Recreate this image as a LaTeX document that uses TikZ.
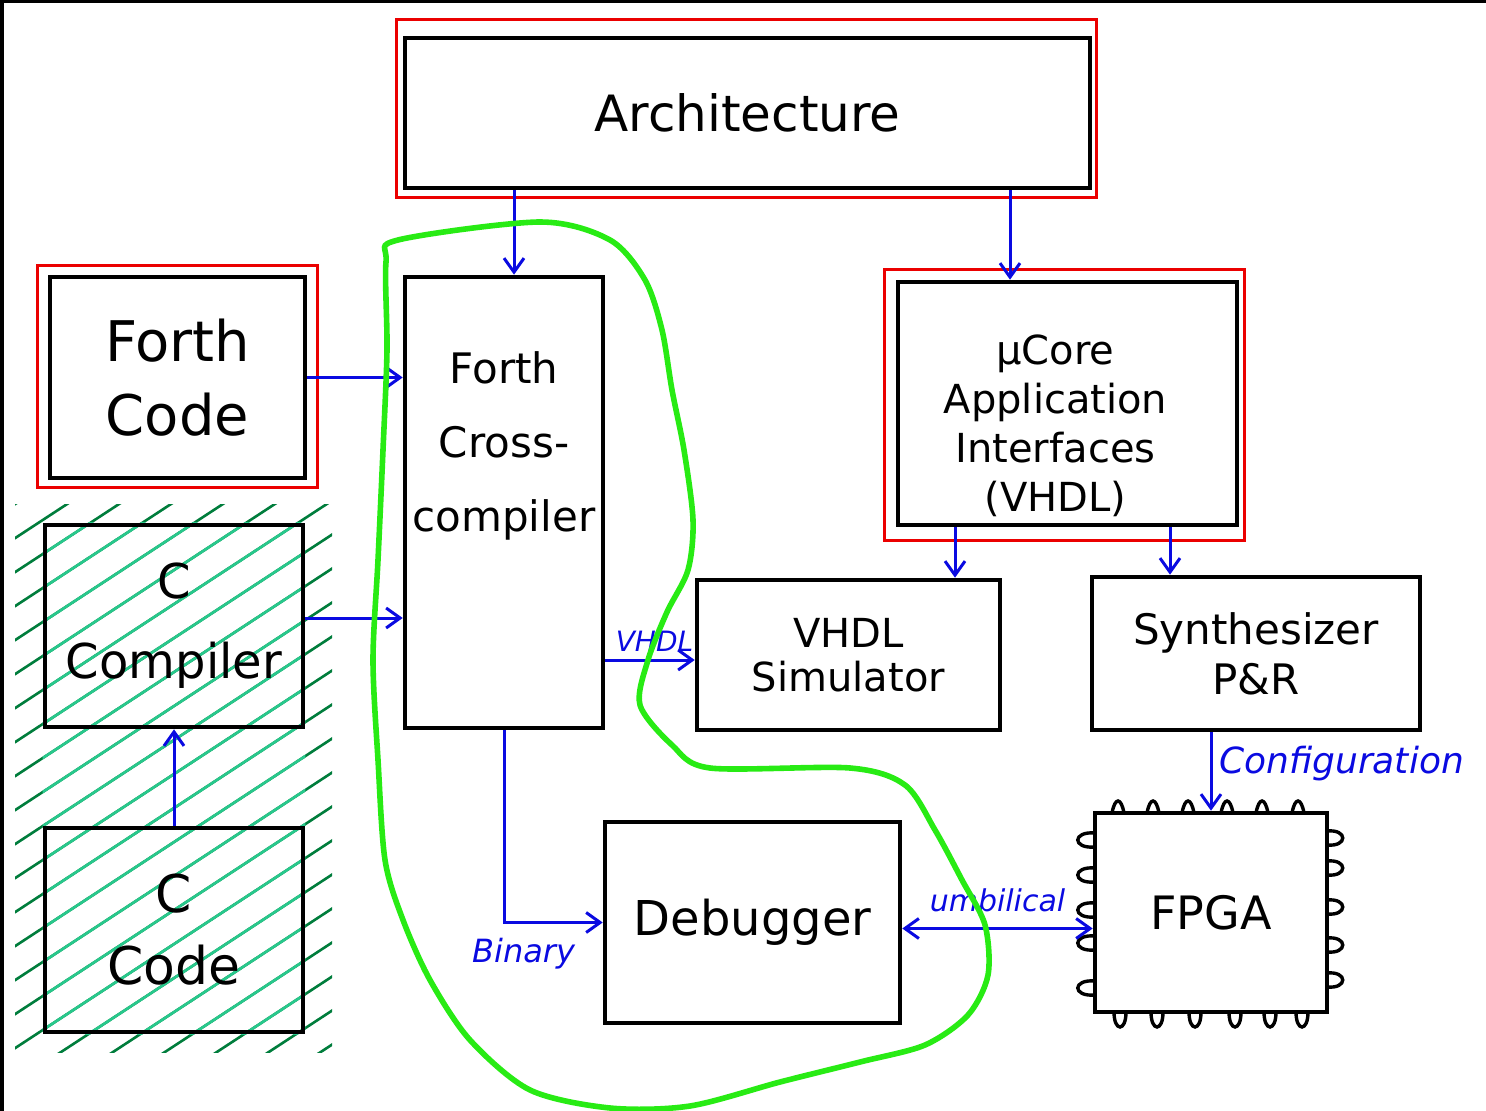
\documentclass[tikz,border=0pt]{standalone}
\usepackage{fontspec}
\setmainfont{DejaVu Sans}
\usetikzlibrary{arrows.meta,backgrounds,positioning}

\definecolor{penblue}{RGB}{10,10,225}
\definecolor{penred}{RGB}{235,0,0}
\definecolor{pengreen}{RGB}{40,235,20}
\definecolor{hatchdark}{RGB}{0,125,60}
\definecolor{hatchlight}{RGB}{40,200,140}

\begin{document}
\begin{tikzpicture}[x=0.5pt, y=-0.5pt,
    >={Straight Barb[length=7pt,width=10pt]},
    box/.style={draw, line width=2.3pt, inner sep=0pt, align=center},
    redframe/.style={draw=penred, line width=1.7pt},
    link/.style={penblue, line width=1.5pt, ->},
    lbl/.style={text=penblue, font=\itshape\fontsize{#1}{#1}\selectfont},
    lbl/.default=16,
    pin/.style={line width=1.7pt},
    greenline/.style={pengreen, line width=2.8pt}]
    \useasboundingbox (0,0) rectangle (1486,1111);

    % Rand oben und links
    \fill (0,0) rectangle (4,1111);
    \fill (0,0) rectangle (1486,3);

    % Kaesten
    \node[box, minimum width=342.5pt, minimum height=75pt,
          font=\fontsize{25}{30}\selectfont] (arch) at (747.5,113) {Architecture};
    \node[box, minimum width=127.5pt, minimum height=100.5pt,
          font=\fontsize{28}{37}\selectfont] (fcode) at (177.5,377.5) {Forth\\Code};
    \node[box, minimum width=129pt, minimum height=101pt,
          font=\fontsize{24}{40}\selectfont] (ccomp) at (174,626) {C\\Compiler};
    \node[box, minimum width=129pt, minimum height=102pt,
          font=\fontsize{26}{36}\selectfont] (ccode) at (174,930) {C\\Code};
    \node[box, minimum width=99pt, minimum height=225.5pt] (cross) at (504,502.5) {};
    \node[font=\fontsize{21}{37}\selectfont, align=center,
          below=35pt of cross.north] (crosstext) {Forth\\Cross-\\compiler};
    \node[box, minimum width=169.5pt, minimum height=121.5pt] (ucore) at (1067.5,403.5) {};
    \node[font=\fontsize{20}{24.5}\selectfont, align=center,
          below=24pt of ucore.north, xshift=-6pt] (ucoretext) {µCore\\Application\\Interfaces\\(VHDL)};
    \node[box, minimum width=151.5pt, minimum height=75pt,
          font=\fontsize{20}{22}\selectfont] (vsim) at (848.5,655) {VHDL\\Simulator};
    \node[box, minimum width=164pt, minimum height=76.5pt,
          font=\fontsize{21}{25}\selectfont] (synth) at (1256,653.5) {Synthesizer\\P\&R};
    \node[box, minimum width=147.5pt, minimum height=100.5pt,
          font=\fontsize{24}{28}\selectfont] (dbg) at (752.5,922.5) {Debugger};
    \node[box, minimum width=116pt, minimum height=99.5pt,
          font=\fontsize{23}{28}\selectfont] (fpga) at (1211,912.5) {FPGA};

    % rote Rahmen
    \draw[redframe] ([shift={(-6,-16)}]arch.north west) rectangle ([shift={(4,7)}]arch.south east);
    \draw[redframe] ([shift={(-10,-9)}]fcode.north west) rectangle ([shift={(10,7)}]fcode.south east);
    \draw[redframe] ([shift={(-11,-10)}]ucore.north west) rectangle ([shift={(5,13)}]ucore.south east);

    % FPGA-Pins
    \foreach \x in {1118,1153,1188,1227,1262,1298}
        \draw[pin] ({\x-6},813) .. controls ({\x-3},797) and ({\x+3},797) .. ({\x+6},813);
    \foreach \x in {1120,1157,1195,1235,1270,1302}
        \draw[pin] ({\x-6},1012) .. controls ({\x-6},1032) and ({\x+6},1032) .. ({\x+6},1012);
    \foreach \y in {840,875,910,943,988}
        \draw[pin] (1095,{\y-7}) .. controls (1072,{\y-9}) and (1072,{\y+9}) .. (1095,{\y+7});
    \foreach \y in {838,868,907,945,980}
        \draw[pin] (1327,{\y-7}) .. controls (1348,{\y-9}) and (1348,{\y+9}) .. (1327,{\y+7});

    % Verbindungen
    \draw[link] ([xshift=5pt]arch.south -| cross.north) -- ([xshift=5pt]cross.north);
    \draw[link] ([xshift=-28.75pt]arch.south -| ucore.north) -- ([xshift=-28.75pt]ucore.north);
    \draw[link] (fcode.east) -- (fcode.east -| cross.west);
    \draw[link] ([yshift=4pt]ccomp.east) -- ([yshift=4pt]ccomp.east -| cross.west);
    \draw[link] (ccode.north) -- (ccomp.south);
    \draw[link] ([yshift=-2.5pt]vsim.west -| cross.east) -- node[lbl=14, above, pos=0.55] (vhdllbl) {VHDL} ([yshift=-2.5pt]vsim.west);
    \draw[link] (cross.south) |- node[lbl, pos=0.5, anchor=north west, xshift=-20pt, yshift=-4pt] (binlbl) {Binary} (dbg.west);
    \draw[link] ([xshift=-56.25pt]ucore.south) -- ([xshift=-56.25pt]ucore.south |- vsim.north);
    \draw[link] ([xshift=51.25pt]ucore.south) -- ([xshift=51.25pt]ucore.south |- synth.north);
    \draw[link] (synth.south -| fpga.north) -- node[lbl=18, right, pos=0.4] (conflbl) {Configuration} (fpga.north);
    \draw[link, <->] ([yshift=-3pt]dbg.east) -- node[lbl=15, above, yshift=4pt] (umblbl) {umbilical} ([yshift=-3pt]dbg.east -| fpga.west);

    % gruene Schleife
    \draw[greenline] plot[smooth cycle, tension=0.5] coordinates {
        (398,240) (540,222) (610,240) (645,280) (662,330) (672,390) (684,450)
        (693,520) (688,570) (667,612) (648,660) (640,705) (672,745) (710,768)
        (850,768) (905,785) (935,830) (962,880) (985,925) (988,975) (968,1015)
        (925,1045) (860,1062) (780,1082) (690,1106) (610,1108) (530,1090)
        (470,1040) (430,980) (403,920) (385,860) (378,760) (373,660) (378,560)
        (383,450) (387,350) (386,262)};

    % Schraffur
    \begin{scope}[on background layer]
        \begin{scope}
            \clip (15,505) rectangle (332,1052);
            \foreach \c in {480,514,...,1340}
                \draw[hatchdark, line width=1.3pt] (0,\c) -- (420,{\c-275});
        \end{scope}
        \begin{scope}
            \clip (ccomp.north west) rectangle (ccode.south east);
            \foreach \c in {480,514,...,1340}
                \draw[hatchlight, line width=1.3pt] (0,\c) -- (420,{\c-275});
        \end{scope}
    \end{scope}
\end{tikzpicture}
\end{document}
